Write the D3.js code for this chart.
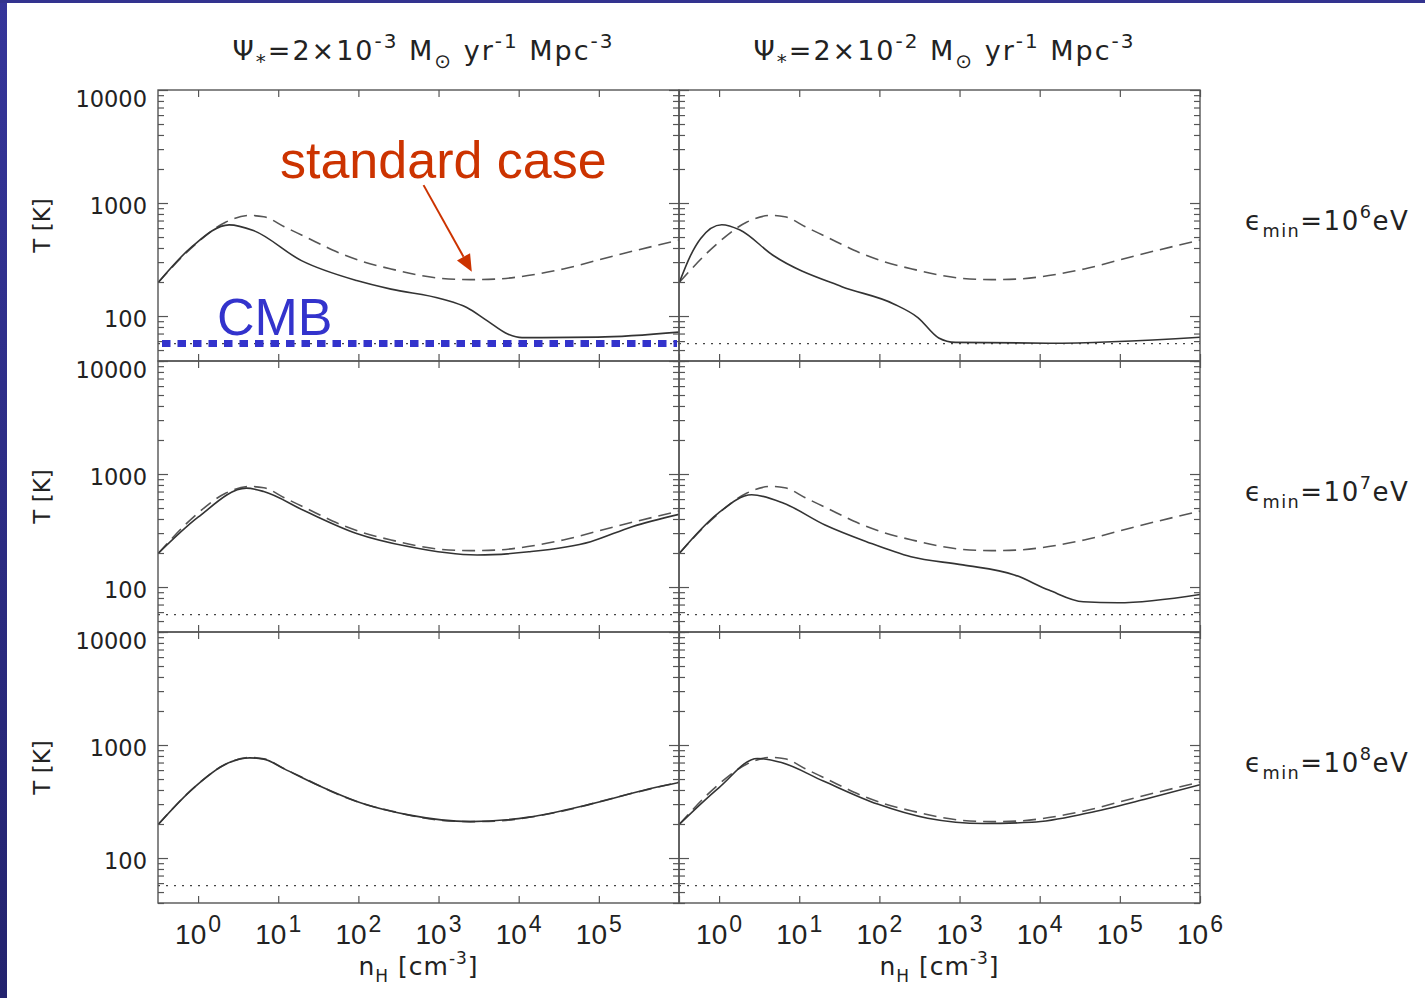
<!DOCTYPE html>
<html>
<head>
<meta charset="utf-8">
<script src="https://cdn.jsdelivr.net/npm/d3@7"></script>
<style>
  body { margin: 0; background: #fff; }
  svg { display: block; }
  text { font-family: "DejaVu Sans", sans-serif; fill: #222; }
</style>
</head>
<body>
<div id="chart"></div>
<script>
// "standard case" (dashed), the same in every panel: n_H [cm^-3], T [K]
var nStd = [0.32, 0.89, 2.2, 4.4, 6.6, 11.9, 19.5, 29, 47.5, 116, 255, 1100, 2500, 5000, 13000, 36000, 160000, 1000000];
var tStd = [199, 420, 676, 776, 757, 617, 521, 455, 384, 302, 261, 215, 210, 212, 228, 261, 343, 470];

// solid curves, one per panel
var nTopLeft = [0.32, 0.82, 2.44, 4.9, 19.5, 95, 255, 1130, 2250, 4070, 7400, 11000, 97000, 1000000];
var tTopLeft = [199, 405, 641, 571, 309, 206, 173, 141, 119, 90.6, 69, 64.4, 65, 72];

var nTopRight = [0.32, 0.44, 0.59, 1.08, 1.8, 4.75, 34, 151, 302, 550, 890, 13000, 1000000];
var tTopRight = [199, 343, 486, 643, 580, 343, 182, 128, 97, 64, 58.5, 57.5, 65];

var nMidLeft = [0.32, 1.0, 4.0, 6.6, 21.6, 95, 420, 3030, 13400, 79000, 260000, 1000000];
var tMidLeft = [199, 415, 750, 700, 470, 298, 228, 192, 205, 252, 342, 440];

var nMidRight = [0.32, 0.97, 2.55, 6.4, 21, 69, 248, 1100, 4840, 13000, 35000, 94000, 1000000];
var tMidRight = [199, 449, 655, 551, 354, 252, 185, 157, 128, 94, 74, 72.6, 86];

var nBotLeft = [0.32, 0.89, 2.2, 4.4, 6.6, 11.9, 29, 116, 420, 2480, 13400, 79000, 430000, 1000000];
var tBotLeft = [199, 420, 676, 770, 750, 615, 452, 302, 241, 210, 230, 300, 410, 466];

var nBotRight = [0.32, 1.0, 3.0, 6.0, 20, 95, 400, 2000, 8000, 40000, 200000, 1000000];
var tBotRight = [199, 420, 760, 700, 480, 300, 225, 202, 207, 250, 330, 445];

var tCMB = 57;

// tick labels
var xTickExpsLeft = [0, 1, 2, 3, 4, 5];
var xTickExpsRight = [0, 1, 2, 3, 4, 5, 6];
var yTickVals = [100, 1000, 10000];
var columnPsiExp = ['-3', '-2'];
var rowEminExp = ['6', '7', '8'];

// layout
var W = 1425, H = 998;
var colLeft = [158, 679], colW = 521;
var rowTop = [90, 361, 632], rowH = 271;

var x = d3.scaleLog().domain([Math.pow(10, -0.5), 1e6]).range([0, colW]);
var y = d3.scaleLog().domain([40, 10000]).range([rowH, 0]);

var yMinor = [];
[10, 100, 1000].forEach(function(dec) {
  for (var k = 2; k <= 9; k++) {
    var v = k * dec;
    if (v >= 40 && v <= 10000) yMinor.push(v);
  }
});

var panels = [
  {row: 0, col: 0, n: nTopLeft, t: tTopLeft},
  {row: 0, col: 1, n: nTopRight, t: tTopRight},
  {row: 1, col: 0, n: nMidLeft, t: tMidLeft},
  {row: 1, col: 1, n: nMidRight, t: tMidRight},
  {row: 2, col: 0, n: nBotLeft, t: tBotLeft},
  {row: 2, col: 1, n: nBotRight, t: tBotRight}
];

var svg = d3.select('#chart').append('svg')
    .attr('width', W)
    .attr('height', H);

svg.append('rect').attr('width', W).attr('height', H).attr('fill', '#fff');

// slide border
var grad = svg.append('defs').append('linearGradient')
    .attr('id', 'bar').attr('x1', 0).attr('y1', 0).attr('x2', 0).attr('y2', 1);
grad.append('stop').attr('offset', 0).attr('stop-color', '#35359a');
grad.append('stop').attr('offset', 1).attr('stop-color', '#23236e');
svg.append('rect').attr('x', 0).attr('y', 0).attr('width', 7).attr('height', H).attr('fill', 'url(#bar)');
svg.append('rect').attr('x', 0).attr('y', 0).attr('width', W).attr('height', 3).attr('fill', '#33338f');

// text with super/subscripts
function richText(sel, parts, size, supScale) {
  var shift = 0;
  parts.forEach(function(p) {
    var k = p[1] || 'n';
    var target = k === 'sup' ? -size * 0.45 : (k === 'sub' ? size * 0.28 : 0);
    var ts = sel.append('tspan').text(p[0]).attr('dy', target - shift);
    shift = target;
    if (k !== 'n') ts.style('font-size', (size * (supScale || 0.68)) + 'px');
  });
}

var line = d3.line()
    .x(function(d) { return x(d[0]); })
    .y(function(d) { return y(d[1]); })
    .curve(d3.curveMonotoneX);

var axisColor = '#555';

panels.forEach(function(p, i) {
  var g = svg.append('g')
      .attr('transform', 'translate(' + colLeft[p.col] + ',' + rowTop[p.row] + ')');

  g.append('clipPath').attr('id', 'clip' + i)
    .append('rect').attr('width', colW).attr('height', rowH);

  var plot = g.append('g').attr('clip-path', 'url(#clip' + i + ')');

  // CMB temperature
  plot.append('line')
      .attr('x1', 0).attr('x2', colW)
      .attr('y1', y(tCMB)).attr('y2', y(tCMB))
      .attr('stroke', '#444')
      .attr('stroke-width', 1.3)
      .attr('stroke-dasharray', '2,6');

  plot.append('path')
      .datum(d3.zip(nStd, tStd))
      .attr('d', line)
      .attr('fill', 'none')
      .attr('stroke', '#555')
      .attr('stroke-width', 1.6)
      .attr('stroke-dasharray', '13,7');

  plot.append('path')
      .datum(d3.zip(p.n, p.t))
      .attr('d', line)
      .attr('fill', 'none')
      .attr('stroke', '#333')
      .attr('stroke-width', 1.6);

  // axes: ticks inward on all four sides
  var decades = xTickExpsRight.map(function(e) { return Math.pow(10, e); });
  var axes = [
    {a: d3.axisLeft(y).tickValues(yTickVals).tickSize(-10), t: ''},
    {a: d3.axisLeft(y).tickValues(yMinor).tickSize(-6), t: ''},
    {a: d3.axisRight(y).tickValues(yTickVals).tickSize(-10), t: 'translate(' + colW + ',0)'},
    {a: d3.axisRight(y).tickValues(yMinor).tickSize(-6), t: 'translate(' + colW + ',0)'},
    {a: d3.axisTop(x).tickValues(decades).tickSize(-7), t: ''},
    {a: d3.axisBottom(x).tickValues(decades).tickSize(-7), t: 'translate(0,' + rowH + ')'}
  ];
  axes.forEach(function(ax) {
    var ag = g.append('g').attr('transform', ax.t)
        .call(ax.a.tickFormat('').tickSizeOuter(0));
    ag.select('.domain').remove();
    ag.selectAll('line').attr('stroke', axisColor).attr('stroke-width', 1.2);
    ag.selectAll('text').remove();
  });

  g.append('rect')
      .attr('width', colW).attr('height', rowH)
      .attr('fill', 'none')
      .attr('stroke', axisColor)
      .attr('stroke-width', 1.4);

  // y tick labels, left column only
  if (p.col === 0) {
    g.selectAll('.ylab').data(yTickVals).enter().append('text')
        .attr('x', -11)
        .attr('y', function(d) { return y(d) + (d === 10000 ? 8.5 : 2.5); })
        .attr('dy', '0.36em')
        .attr('text-anchor', 'end')
        .style('font-size', '22.5px')
        .text(function(d) { return d; });

    g.append('text')
        .attr('transform', 'translate(' + (50 - colLeft[0]) + ',' + (rowH / 2) + ') rotate(-90)')
        .attr('text-anchor', 'middle')
        .style('font-size', '23px')
        .text('T [K]');
  }

  // x tick labels, bottom row only
  if (p.row === 2) {
    var exps = p.col === 0 ? xTickExpsLeft : xTickExpsRight;
    exps.forEach(function(e) {
      var tx = g.append('text')
          .attr('x', x(Math.pow(10, e)))
          .attr('y', rowH + 41)
          .attr('text-anchor', 'middle')
          .style('font-family', '"Liberation Sans", sans-serif')
          .style('font-size', '28px');
      tx.append('tspan').text('10');
      tx.append('tspan').text(e).attr('dy', -12).attr('dx', 2).style('font-size', '23px');
    });

    var xt = g.append('text')
        .attr('x', colW / 2)
        .attr('y', rowH + 72)
        .attr('text-anchor', 'middle')
        .style('font-size', '25px')
        .style('letter-spacing', '1px');
    richText(xt, [['n'], ['H', 'sub'], [' [cm'], ['-3', 'sup'], [']']], 25);
  }
});

// column titles
columnPsiExp.forEach(function(e, c) {
  var tt = svg.append('text')
      .attr('x', colLeft[c] + colW / 2 + 5)
      .attr('y', 60)
      .attr('text-anchor', 'middle')
      .style('font-size', '27px')
      .style('letter-spacing', '2px');
  richText(tt, [['\u03A8'], ['*', 'sub'], ['=2\u00D710'], [e, 'sup'], ['  M'], ['\u2299', 'sub'],
                ['  yr'], ['-1', 'sup'], ['  Mpc'], ['-3', 'sup']], 27, 0.74);
});

// row labels
rowEminExp.forEach(function(e, r) {
  var rt = svg.append('text')
      .attr('x', 1245)
      .attr('y', rowTop[r] + rowH / 2 + 4)
      .style('font-size', '26px')
      .style('letter-spacing', '1.5px');
  richText(rt, [['\u03F5'], ['min', 'sub'], ['=10'], [e, 'sup'], ['eV']], 26);
});

// annotations in the top-left panel
var ann = svg.append('g')
    .attr('transform', 'translate(' + colLeft[0] + ',' + rowTop[0] + ')');

ann.append('line')
    .attr('x1', 4).attr('x2', colW - 2)
    .attr('y1', y(tCMB)).attr('y2', y(tCMB))
    .attr('stroke', '#3333cc')
    .attr('stroke-width', 7)
    .attr('stroke-dasharray', '8.5,7');

ann.append('text')
    .attr('x', 59)
    .attr('y', y(tCMB) - 8.5)
    .style('font-family', '"Liberation Sans", Arial, sans-serif')
    .style('font-size', '52px')
    .style('fill', '#3333cc')
    .text('CMB');

ann.append('text')
    .attr('x', 122)
    .attr('y', 88)
    .style('font-family', '"Liberation Sans", Arial, sans-serif')
    .style('font-size', '52px')
    .style('fill', '#cc3300')
    .text('standard case');

var tail = [x(650), y(1440)], tip = [x(2600), y(247)];
var ang = Math.atan2(tip[1] - tail[1], tip[0] - tail[0]);
var headL = 17, headW = 7.5;
var base = [tip[0] - headL * Math.cos(ang), tip[1] - headL * Math.sin(ang)];
ann.append('line')
    .attr('x1', tail[0]).attr('y1', tail[1])
    .attr('x2', base[0]).attr('y2', base[1])
    .attr('stroke', '#cc3300')
    .attr('stroke-width', 2);
ann.append('path')
    .attr('d', 'M' + tip[0] + ',' + tip[1] +
               'L' + (base[0] + headW * Math.sin(ang)) + ',' + (base[1] - headW * Math.cos(ang)) +
               'L' + (base[0] - headW * Math.sin(ang)) + ',' + (base[1] + headW * Math.cos(ang)) + 'Z')
    .attr('fill', '#cc3300');
</script>
</body>
</html>
